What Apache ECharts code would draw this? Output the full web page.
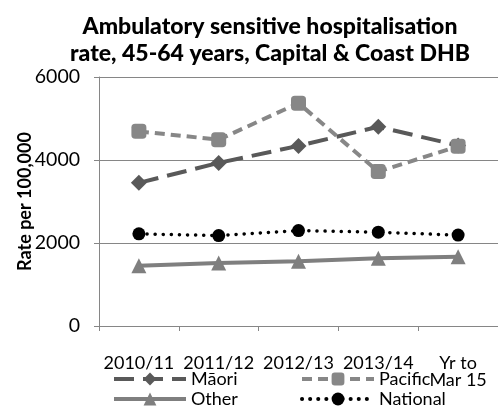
<!DOCTYPE html>
<html><head><meta charset="utf-8">
<script src="https://cdn.jsdelivr.net/npm/echarts@6/dist/echarts.min.js"></script>
<style>html,body{margin:0;padding:0;background:#fff}#c{width:498px;height:412px}</style>
</head><body><div id="c"></div>
<script>
const categories = ['2010/11', '2011/12', '2012/13', '2013/14', 'Yr to\nMar 15'];
const maori = [3450, 3930, 4340, 4800, 4350];
const pacific = [4690, 4490, 5370, 3720, 4330];
const other = [1450, 1520, 1560, 1630, 1670];
const national = [2220, 2180, 2300, 2260, 2190];
const yTicks = [0, 2000, 4000, 6000];

const F = 'Lato';
const chart = echarts.init(document.getElementById('c'), null, {renderer: 'canvas'});
function leg(name, left, top) {
  return {data: [name], left: left, top: top, itemWidth: 72, itemHeight: 16, itemGap: 0,
    lineStyle: {width: 4},
    textStyle: {fontFamily: F, fontSize: 18, color: '#000', padding: [0,0,0,0]}, padding: 0};
}
chart.setOption({
  animation: false,
  title: {text: 'Ambulatory sensitive hospitalisation\nrate, 45-64 years, Capital & Coast DHB',
    left: 265, textAlign: 'center', top: 8,
    textStyle: {fontFamily: F, fontSize: 23, fontWeight: 900, color: '#000', lineHeight: 27}},
  legend: [leg('Māori', 112, 370), leg('Pacific', 300, 370), leg('Other', 112, 390), leg('National', 300, 390)],
  grid: {left: 99, top: 77, width: 405, height: 249},
  xAxis: {type: 'category', data: categories, boundaryGap: true,
    axisLine: {lineStyle: {color: '#868686', width: 1}},
    axisTick: {show: true, length: 5, lineStyle: {color: '#868686'}},
    axisLabel: {fontFamily: F, fontSize: 18, color: '#000', margin: 29, lineHeight: 17, interval: 0}},
  yAxis: {type: 'value', min: 0, max: 6000, interval: 2000,
    name: 'Rate per 100,000', nameLocation: 'middle', nameGap: 65, nameRotate: 90,
    nameMoveOverlap: false,
    nameTextStyle: {fontFamily: F, fontSize: 18, fontWeight: 'bold', color: '#000'},
    axisLine: {show: true, lineStyle: {color: '#868686'}},
    axisTick: {show: true, length: 5, lineStyle: {color: '#868686'}},
    splitLine: {lineStyle: {color: '#868686'}},
    axisLabel: {fontFamily: F, fontSize: 19.5, color: '#000', margin: 19,
      formatter: v => yTicks.includes(v) ? String(v) : ''}},
  series: [
    {name: 'Māori', type: 'line', data: maori, symbol: 'diamond', symbolSize: 16,
      itemStyle: {color: '#595959'}, lineStyle: {color: '#595959', width: 4, type: [20, 9]}, z: 3},
    {name: 'Pacific', type: 'line', data: pacific, symbol: 'roundRect', symbolSize: 15,
      itemStyle: {color: '#878787'}, lineStyle: {color: '#878787', width: 4, type: [10, 6]}, z: 4},
    {name: 'Other', type: 'line', data: other, symbol: 'triangle', symbolSize: 15,
      itemStyle: {color: '#7f7f7f'}, lineStyle: {color: '#7f7f7f', width: 4}, z: 2},
    {name: 'National', type: 'line', data: national, symbol: 'circle', symbolSize: 13,
      itemStyle: {color: '#000'}, lineStyle: {color: '#000', width: 3.5, type: [0.1, 8], cap: 'round'}, z: 5}
  ]
});
</script></body></html>
